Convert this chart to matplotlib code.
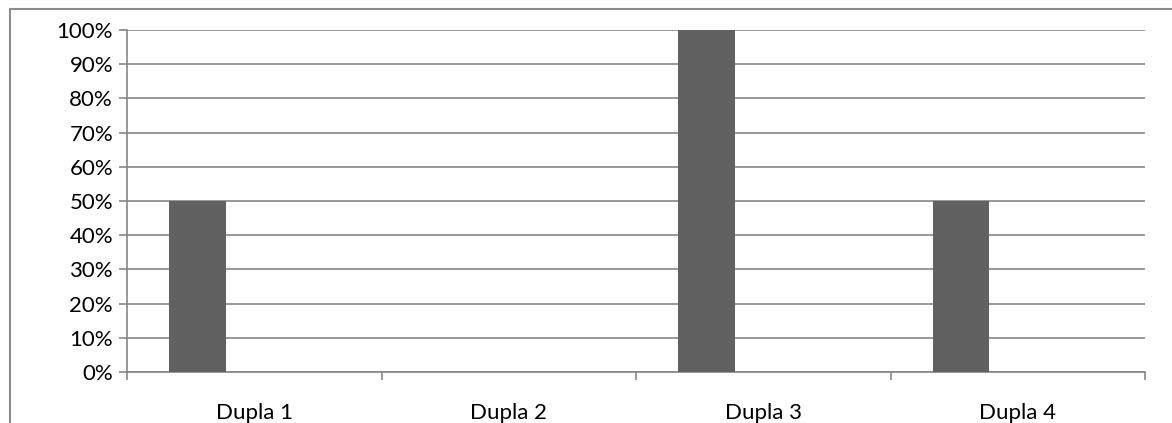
import numpy as np
import matplotlib.pyplot as plt
from matplotlib.patches import Rectangle
from matplotlib.ticker import PercentFormatter

plt.rcParams['font.family'] = ['Lato', 'DejaVu Sans']

# chart data (3 series, only the first has non-zero values)
categories = ['Dupla 1', 'Dupla 2', 'Dupla 3', 'Dupla 4']
series_1 = [50, 0, 100, 50]
series_2 = [0, 0, 0, 0]
series_3 = [0, 0, 0, 0]
yticks = list(range(0, 101, 10))

W, H = 1172, 423
fig = plt.figure(figsize=(W / 100, H / 100), dpi=100)
ax = fig.add_axes([127 / W, 1 - 372 / H, (1145 - 127) / W, (372 - 30) / H])

grey = '#868686'
bar_color = '#616161'

# excel-style clustered bars: gap width 150%
n_series = 3
bw = 1 / (n_series + 1.5)
x = np.arange(len(categories))
for k, vals in enumerate([series_1, series_2, series_3]):
    ax.bar(x + 0.75 * bw + k * bw, vals, width=bw, align='edge',
           color=bar_color, linewidth=0, zorder=3)

ax.set_xlim(0, len(categories))
ax.set_ylim(0, 100)
ax.set_yticks(yticks)
ax.yaxis.set_major_formatter(PercentFormatter(decimals=0))
ax.yaxis.grid(True, color=grey, linewidth=1.2)
ax.set_axisbelow(True)

ax.set_xticks(np.arange(len(categories) + 1))
ax.set_xticklabels([])
ax.set_xticks(x + 0.5, minor=True)
ax.set_xticklabels(categories, minor=True)
ax.tick_params(axis='x', which='minor', length=0, pad=22.5, labelsize=16)
ax.tick_params(axis='x', which='major', length=6, width=1.2, color=grey)
ax.tick_params(axis='y', length=6, width=1.2, color=grey, labelsize=16, pad=4)

for s in ['top', 'right']:
    ax.spines[s].set_visible(False)
for s in ['left', 'bottom']:
    ax.spines[s].set_color(grey)
    ax.spines[s].set_linewidth(1.2)

# outer chart frame (cut off at right and bottom)
fig.patches.append(Rectangle((10 / W, -0.1), 1.2, 1 - 9 / H + 0.1,
                             transform=fig.transFigure, fill=False,
                             edgecolor='#8c8c8c', linewidth=1.5))

fig.savefig('out.png', dpi=100)
